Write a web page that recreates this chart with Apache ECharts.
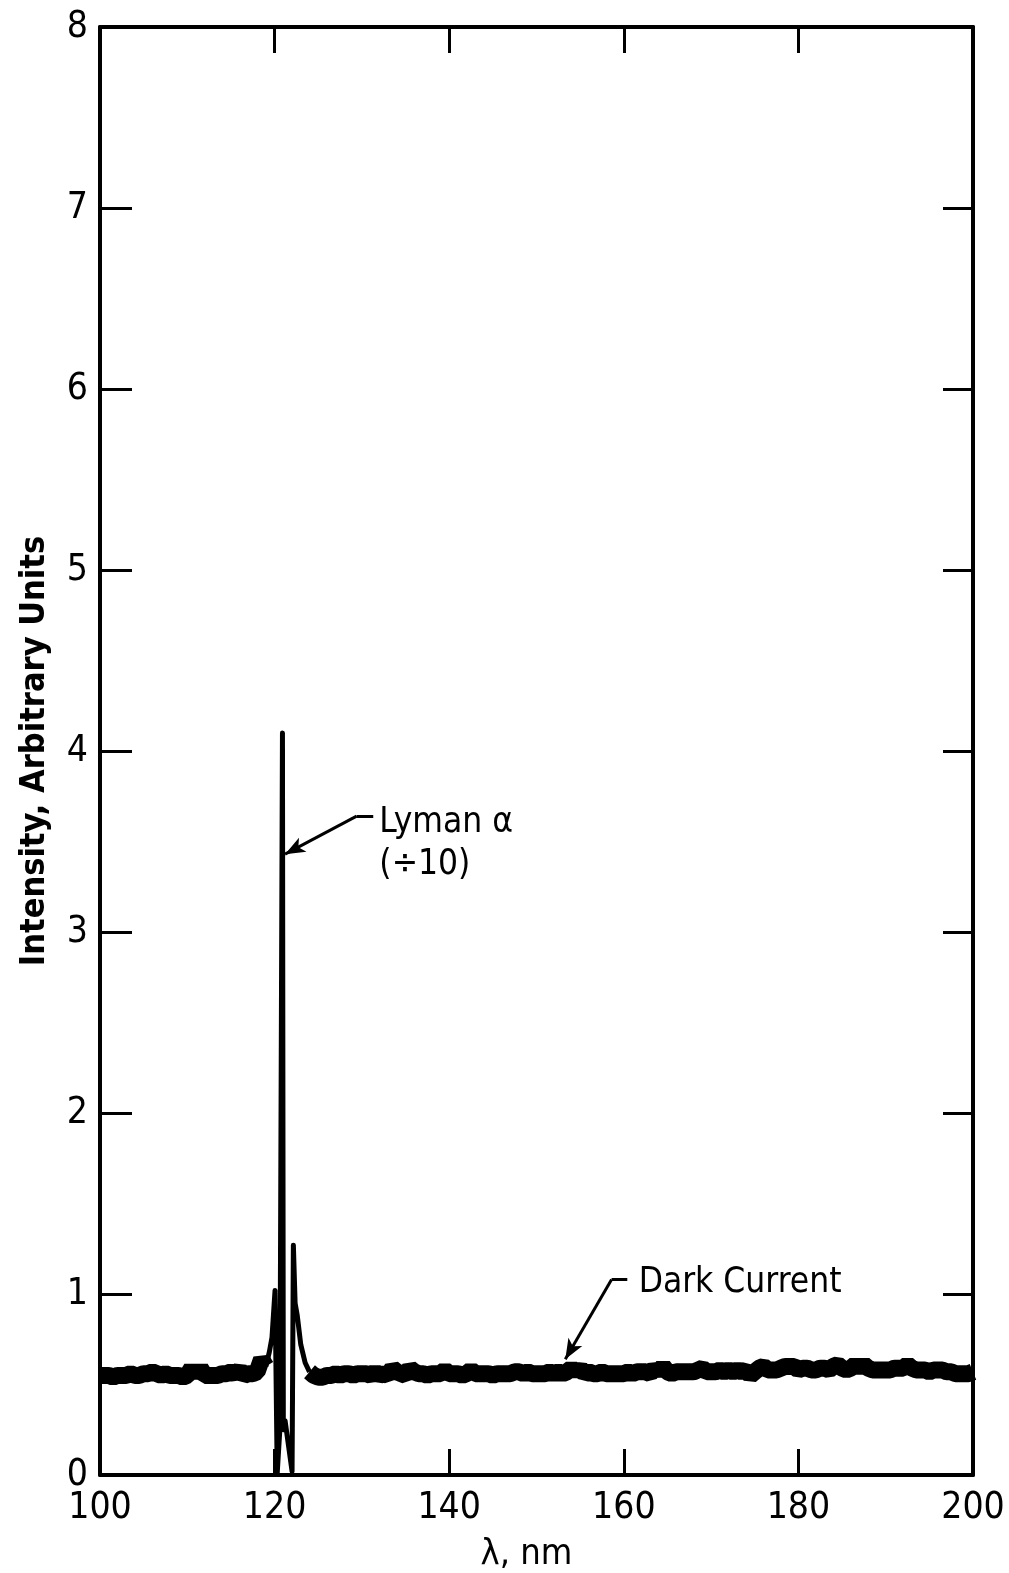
<!DOCTYPE html>
<html>
<head>
<meta charset="utf-8">
<script src="https://cdn.jsdelivr.net/npm/echarts@6/dist/echarts.min.js"></script>
<style>
	html,body{margin:0;padding:0;background:#fff;}
	#chart{width:1009px;height:1573px;}
</style>
</head>
<body>
<div id="chart"></div>
<script>
// 暗电流 100-119 nm, 每 0.5 nm 一个点
var darkLeftStart = 100;
var darkLeft = [0.55,0.55,0.55,0.54,0.55,0.55,0.55,0.56,0.55,0.55,
	0.56,0.56,0.57,0.56,0.55,0.56,0.55,0.55,0.55,0.54,
	0.55,0.59,0.55,0.59,0.55,0.55,0.55,0.55,0.56,0.56,
	0.57,0.56,0.58,0.55,0.56,0.56,0.57,0.64,0.6];

// 暗电流 124-200 nm
var darkRightStart = 124;
var darkRight = [0.57,0.55,0.54,0.54,0.55,0.55,0.56,0.55,0.56,0.56,
	0.55,0.56,0.56,0.56,0.55,0.57,0.55,0.56,0.55,0.59,
	0.57,0.56,0.55,0.59,0.57,0.56,0.56,0.55,0.56,0.56,
	0.56,0.58,0.56,0.56,0.56,0.55,0.56,0.58,0.56,0.56,
	0.56,0.56,0.55,0.56,0.56,0.56,0.56,0.57,0.57,0.56,
	0.57,0.56,0.56,0.56,0.56,0.57,0.56,0.57,0.56,0.57,
	0.59,0.57,0.59,0.56,0.57,0.56,0.56,0.57,0.56,0.56,
	0.56,0.56,0.56,0.57,0.56,0.57,0.57,0.57,0.56,0.59,
	0.57,0.6,0.57,0.56,0.57,0.57,0.57,0.57,0.57,0.58,
	0.59,0.57,0.57,0.57,0.58,0.57,0.58,0.57,0.58,0.57,
	0.58,0.55,0.57,0.59,0.6,0.58,0.58,0.58,0.59,0.6,
	0.6,0.6,0.58,0.59,0.59,0.58,0.58,0.59,0.59,0.58,
	0.6,0.61,0.59,0.58,0.59,0.61,0.59,0.61,0.59,0.58,
	0.58,0.58,0.58,0.58,0.59,0.59,0.59,0.61,0.59,0.58,
	0.58,0.58,0.57,0.58,0.58,0.58,0.57,0.57,0.56,0.56,
	0.56,0.56,0.57];
var darkStep = 0.5;

// Lyman α 附近 (÷10)
var lymanX = [119.0,119.4,119.7,120.05,120.3,120.6,120.9,121.0,121.2,122.0,122.15,122.35,122.6,123.0,123.5,124.0];
var lymanY = [0.6,0.68,0.76,1.02,0.01,0.25,4.1,0.25,0.3,0.02,1.27,0.95,0.88,0.72,0.62,0.57];

var xTicks = [100,120,140,160,180,200];
var yTicks = [0,1,2,3,4,5,6,7,8];

// 标注文字
var notes = [
	{text:'Lyman α', x:132.0, y:3.60},
	{text:'(÷10)', x:132.0, y:3.37},
	{text:'Dark Current', x:161.7, y:1.06}
];

var fontFam = "'Liberation Sans Narrow','DejaVu Sans Condensed',sans-serif";

function pairs(start,step,vals){
	var arr = [];
	for(var i = 0; i < vals.length; i++){
		arr.push([start + i*step, vals[i]]);
	}
	return arr;
}
function zip(xs,ys){
	var arr = [];
	for(var i = 0; i < xs.length; i++) arr.push([xs[i],ys[i]]);
	return arr;
}

var chart = echarts.init(document.getElementById('chart'));
var axisLine = {show:true, onZero:false, lineStyle:{color:'#000', width:4}};
var darkLine = {color:'#000', width:17, join:'bevel', cap:'butt'};

var option = {
	backgroundColor:'#fff',
	animation:false,
	grid:{left:100, right:36, top:27, bottom:98, outerBoundsMode:'none', containLabel:false},
	xAxis:[
		{
			type:'value', min:xTicks[0], max:xTicks[xTicks.length-1], interval:20,
			position:'bottom',
			axisLine:axisLine,
			axisTick:{show:true, inside:true, length:26, lineStyle:{color:'#000', width:3}},
			axisLabel:{color:'#000', fontSize:37, fontFamily:fontFam, margin:15},
			splitLine:{show:false},
			name:'λ, nm', nameLocation:'middle', nameGap:62,
			nameTextStyle:{color:'#000', fontSize:36, fontFamily:fontFam, padding:[0,20,0,0]}
		},
		{
			type:'value', min:xTicks[0], max:xTicks[xTicks.length-1], interval:20,
			position:'top',
			axisLine:axisLine,
			axisTick:{show:true, inside:true, length:26, lineStyle:{color:'#000', width:3}},
			axisLabel:{show:false},
			splitLine:{show:false}
		}
	],
	yAxis:[
		{
			type:'value', min:yTicks[0], max:yTicks[yTicks.length-1], interval:1,
			position:'left',
			axisLine:axisLine,
			axisTick:{show:true, inside:true, length:32, lineStyle:{color:'#000', width:3}},
			axisLabel:{color:'#000', fontSize:37, fontFamily:fontFam, margin:12},
			splitLine:{show:false},
			name:'Intensity, Arbitrary Units', nameLocation:'middle', nameGap:48,
			nameTextStyle:{color:'#000', fontSize:34, fontWeight:'bold', fontFamily:fontFam}
		},
		{
			type:'value', min:yTicks[0], max:yTicks[yTicks.length-1], interval:1,
			position:'right',
			axisLine:axisLine,
			axisTick:{show:true, inside:true, length:30, lineStyle:{color:'#000', width:3}},
			axisLabel:{show:false},
			splitLine:{show:false}
		}
	],
	series:[
		{
			name:'dark left', type:'line', showSymbol:false, symbol:'none',
			lineStyle:darkLine,
			data:pairs(darkLeftStart,darkStep,darkLeft)
		},
		{
			name:'dark right', type:'line', showSymbol:false, symbol:'none',
			lineStyle:darkLine,
			data:pairs(darkRightStart,darkStep,darkRight),
			markLine:{
				silent:true, symbol:['none','none'],
				lineStyle:{color:'#000', width:3, type:'solid'},
				label:{show:false},
				data:[
					[{coord:[160.4,1.08]},{coord:[158.6,1.08]}],
					[{coord:[158.6,1.08]},{coord:[153.3,0.64], symbol:'arrow', symbolSize:[12,20]}]
				]
			}
		},
		{
			name:'lyman', type:'line', showSymbol:false, symbol:'none',
			lineStyle:{color:'#000', width:5, join:'round'},
			data:zip(lymanX,lymanY),
			markLine:{
				silent:true, symbol:['none','none'],
				lineStyle:{color:'#000', width:3, type:'solid'},
				label:{show:false},
				data:[
					[{coord:[131.3,3.64]},{coord:[129.4,3.64]}],
					[{coord:[129.4,3.64]},{coord:[121.2,3.43], symbol:'arrow', symbolSize:[12,20]}]
				]
			}
		}
	]
};
chart.setOption(option);

// 文字用坐标换算后放上去
var texts = [];
notes.forEach(function(n){
	var p = chart.convertToPixel({xAxisIndex:0, yAxisIndex:0}, [n.x, n.y]);
	texts.push({
		type:'text', x:p[0], y:p[1], silent:true,
		style:{text:n.text, fill:'#000', font:'35px ' + fontFam, textAlign:'left', textVerticalAlign:'middle'}
	});
});
chart.setOption({graphic:texts});
</script>
</body>
</html>
